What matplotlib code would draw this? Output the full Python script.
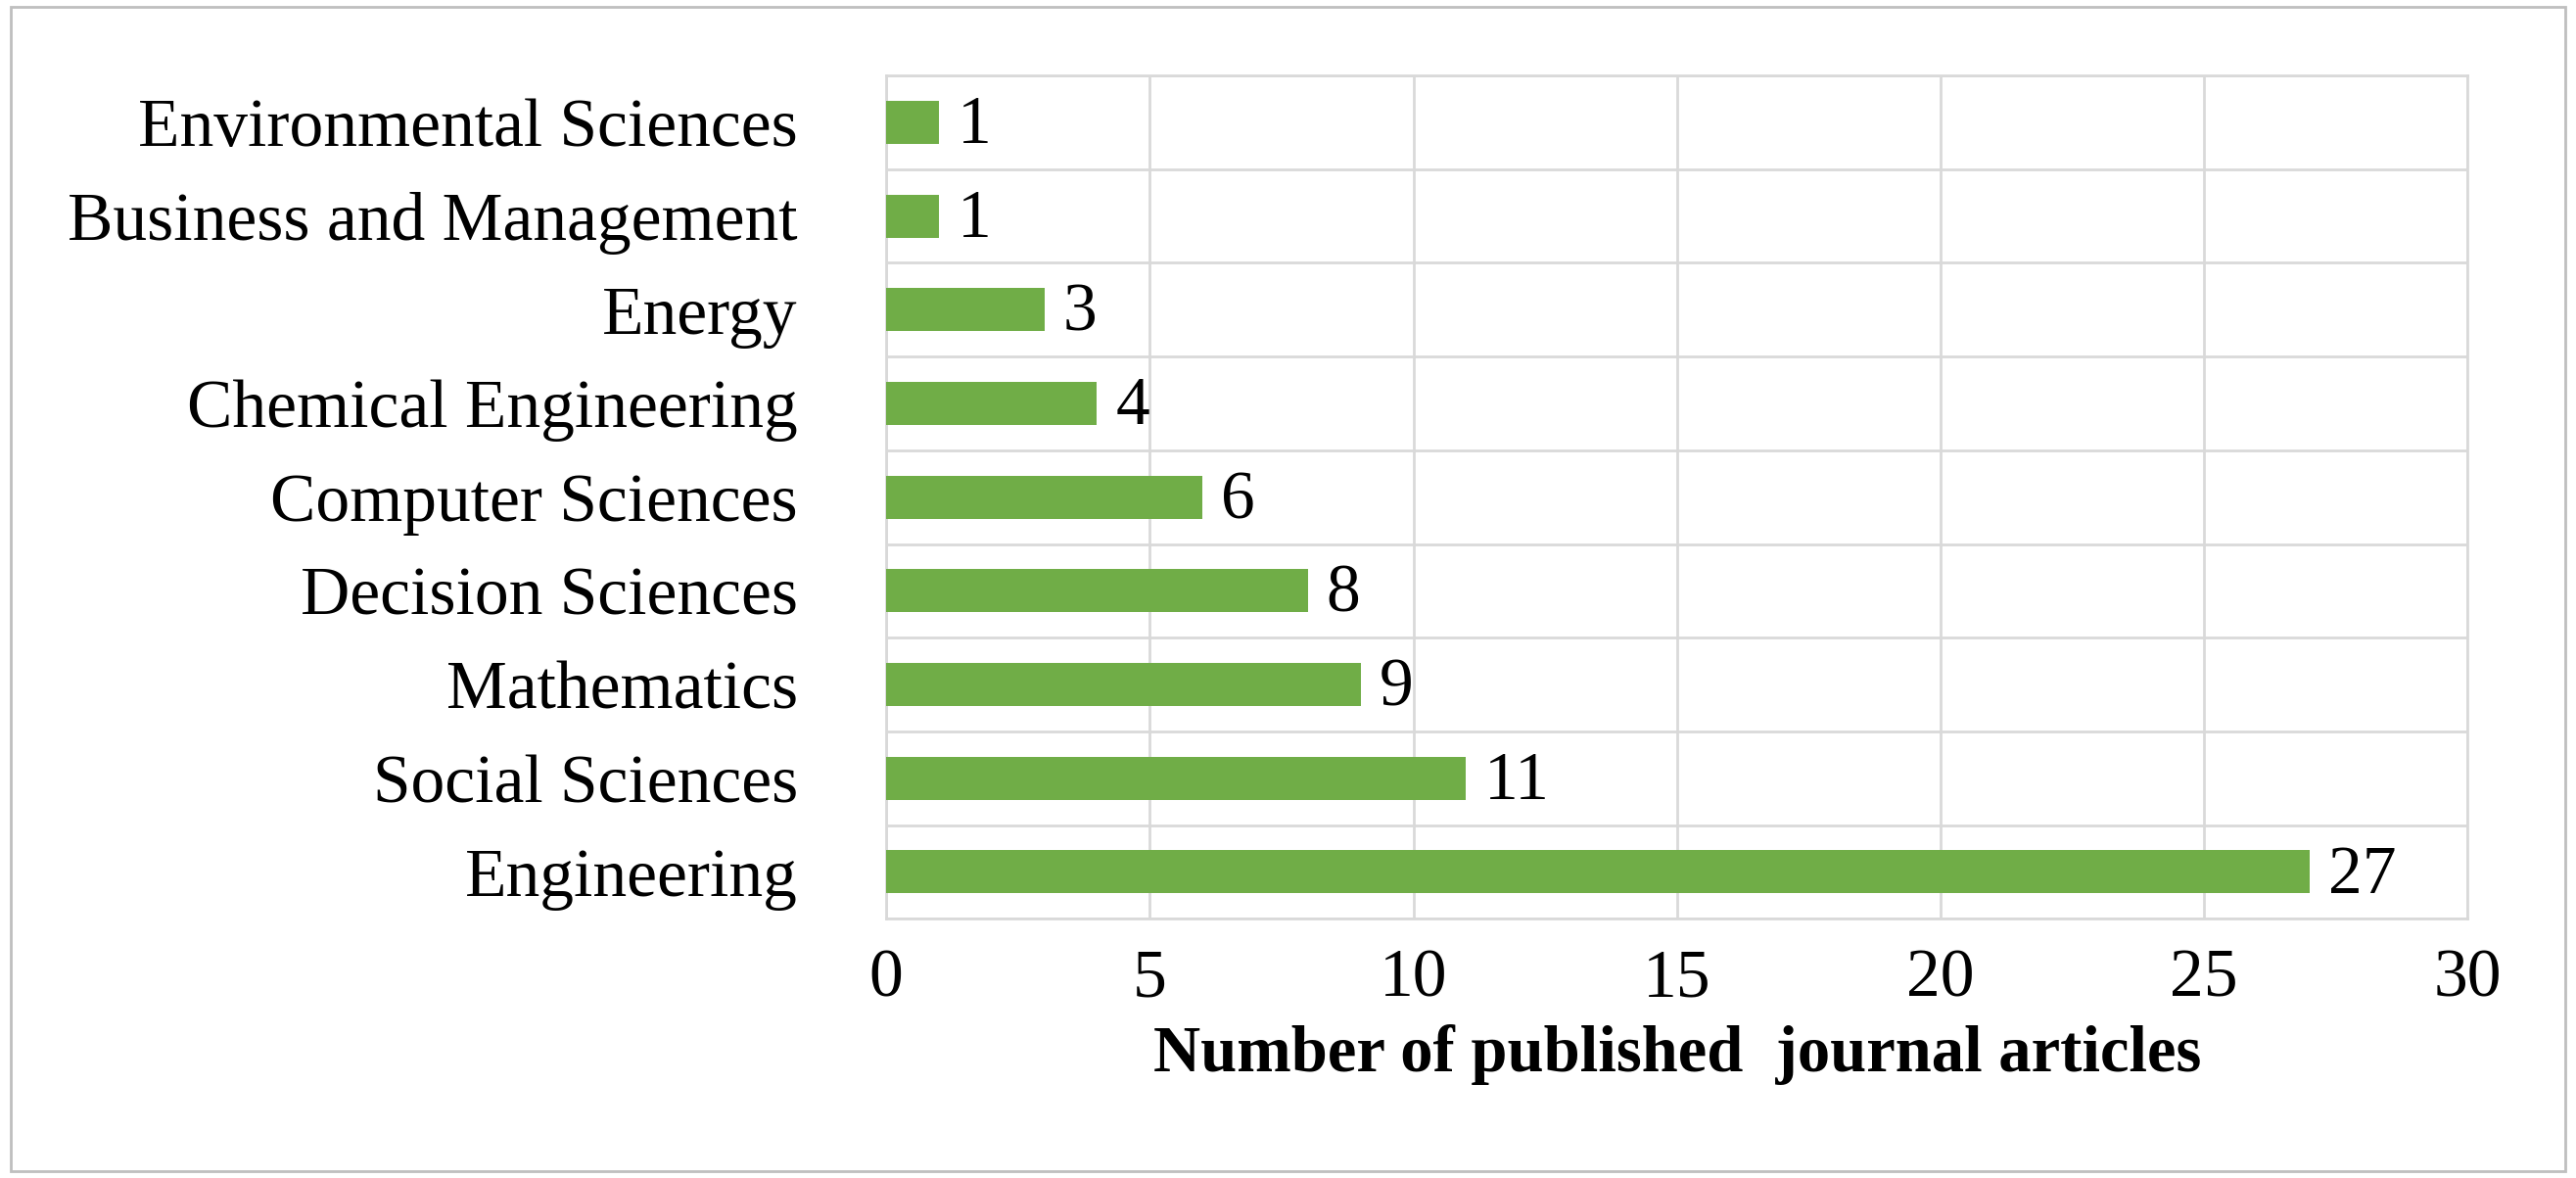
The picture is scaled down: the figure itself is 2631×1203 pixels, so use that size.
import matplotlib
matplotlib.use("Agg")
import matplotlib.pyplot as plt
import numpy as np
from matplotlib.patches import Rectangle

categories = ["Engineering", "Social Sciences", "Mathematics", "Decision Sciences",
              "Computer Sciences", "Chemical Engineering", "Energy",
              "Business and Management", "Environmental Sciences"]
values = [27, 11, 9, 8, 6, 4, 3, 1, 1]
xticks = [0, 5, 10, 15, 20, 25, 30]

plt.rcParams['font.family'] = ['Liberation Serif', 'DejaVu Serif']
fig = plt.figure(figsize=(26.31, 12.03), dpi=100)
fig.patches.append(Rectangle((0.004, 0.006), 0.992, 0.988, transform=fig.transFigure,
                             fill=False, edgecolor='#bfbfbf', linewidth=2))
ax = fig.add_axes([0.344, 0.22, 0.614, 0.716])
y = np.arange(len(categories))
ax.barh(y, values, height=0.46, color='#70AD47', zorder=3)
for yi, v in zip(y, values):
    ax.text(v + 0.35, yi - 0.05, str(v), va='center', ha='left', fontsize=50, zorder=4)
ax.set_xlim(0, 30)
ax.set_ylim(-0.5, len(categories) - 0.5)
ax.set_xticks(xticks)
ax.set_yticks(y)
ax.set_yticklabels(categories)
ax.set_yticks(np.arange(-0.5, len(categories)), minor=True)
ax.tick_params(axis='both', which='both', length=0, labelsize=50)
ax.tick_params(axis='x', pad=22)
ax.tick_params(axis='y', pad=65)
ax.grid(True, axis='x', color='#d9d9d9', linewidth=2, zorder=0)
ax.grid(True, axis='y', which='minor', color='#d9d9d9', linewidth=2, zorder=0)
for s in ax.spines.values():
    s.set_color('#d9d9d9')
    s.set_linewidth(2)
ax.set_xlabel("Number of published  journal articles", fontsize=48, fontweight='bold', labelpad=10)
fig.savefig("out.png", dpi=100)
